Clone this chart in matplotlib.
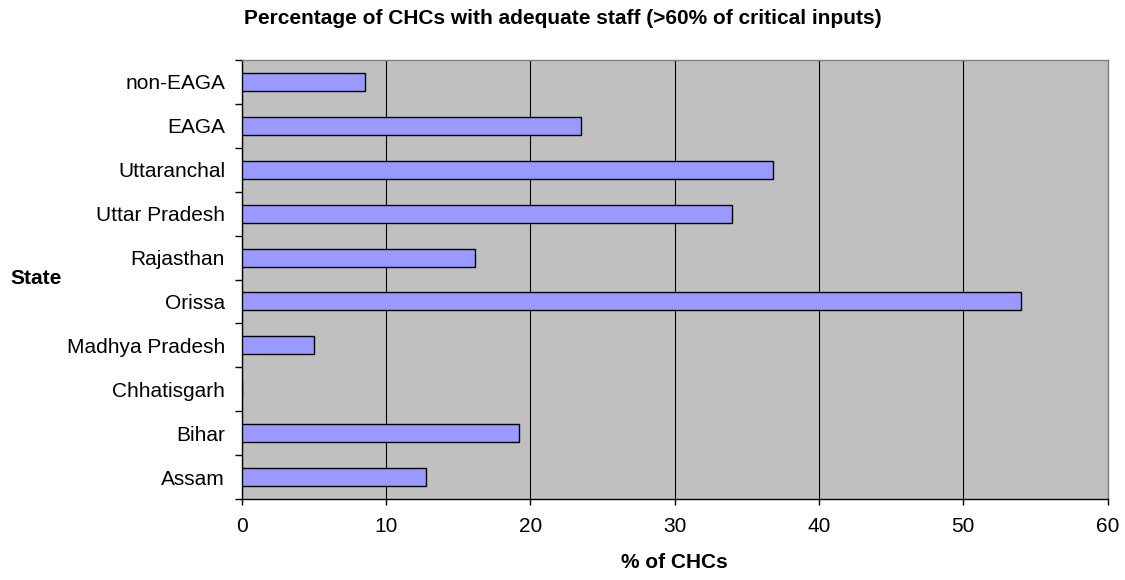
import matplotlib
matplotlib.use("Agg")
import matplotlib.pyplot as plt
import numpy as np

plt.rcParams['font.family'] = ['Liberation Sans', 'DejaVu Sans']

# States listed bottom to top
states = ["Assam", "Bihar", "Chhatisgarh", "Madhya Pradesh", "Orissa",
          "Rajasthan", "Uttar Pradesh", "Uttaranchal", "EAGA", "non-EAGA"]
pct_adequate = [12.8, 19.2, 0.0, 5.0, 54.0, 16.2, 34.0, 36.8, 23.5, 8.55]
x_ticks = [0, 10, 20, 30, 40, 50, 60]

W, H = 1125, 580
fig = plt.figure(figsize=(W / 100, H / 100), dpi=100)
ax = fig.add_axes([241.7 / W, 1 - 499 / H, (1107.5 - 241.7) / W, (499 - 60) / H])

ax.set_facecolor("#C0C0C0")
ypos = np.arange(len(states))
ax.barh(ypos, pct_adequate, height=0.41, color="#9999FF",
        edgecolor="black", linewidth=1.0, zorder=3)

ax.set_xlim(0, 60)
ax.set_ylim(-0.5, len(states) - 0.5)
ax.set_xticks(x_ticks)
ax.set_xticklabels([str(t) for t in x_ticks], fontsize=15)
ax.grid(axis="x", color="black", linewidth=0.8, zorder=1)
ax.set_axisbelow(True)

# category labels at centres, tick marks at category boundaries
ax.set_yticks(ypos)
ax.set_yticklabels(states, fontsize=15)
ax.set_yticks(np.arange(-0.5, len(states), 1.0), minor=True)
ax.tick_params(axis="y", which="major", length=0, pad=12)
ax.tick_params(axis="y", which="minor", length=5, width=1.0, color="black")
ax.tick_params(axis="x", which="major", length=4, width=1.0, pad=9, color="black")

for side in ("top", "right"):
    ax.spines[side].set_color("#808080")
    ax.spines[side].set_linewidth(1.0)
for side in ("left", "bottom"):
    ax.spines[side].set_color("black")
    ax.spines[side].set_linewidth(1.0)

fig.text(0.5, 1 - 18 / H,
         "Percentage of CHCs with adequate staff (>60% of critical inputs)",
         ha="center", va="center", fontsize=15, fontweight="bold")
fig.text(674.6 / W, 1 - 563 / H, "% of CHCs", ha="center", va="center",
         fontsize=15, fontweight="bold")
fig.text(10 / W, 1 - 279 / H, "State", ha="left", va="center",
         fontsize=15, fontweight="bold")

fig.savefig("out.png", dpi=100, facecolor="white")
